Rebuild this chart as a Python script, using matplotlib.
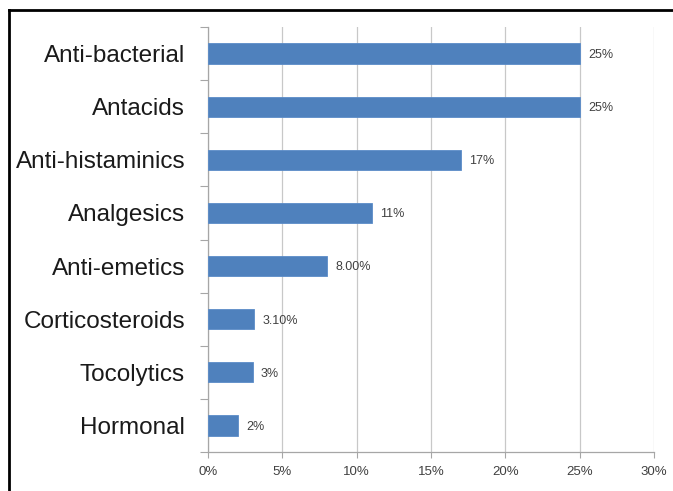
import matplotlib
matplotlib.use("Agg")
import matplotlib.pyplot as plt
from matplotlib.lines import Line2D

categories = ["Anti-bacterial", "Antacids", "Anti-histaminics", "Analgesics",
              "Anti-emetics", "Corticosteroids", "Tocolytics", "Hormonal"]
values = [25, 25, 17, 11, 8, 3.1, 3, 2]
value_labels = ["25%", "25%", "17%", "11%", "8.00%", "3.10%", "3%", "2%"]
x_ticks = [0, 5, 10, 15, 20, 25, 30]
x_tick_labels = ["0%", "5%", "10%", "15%", "20%", "25%", "30%"]

plt.rcParams["font.family"] = ["Liberation Sans Narrow", "Liberation Sans", "DejaVu Sans"]

fig = plt.figure(figsize=(6.73, 4.91), dpi=100)
ax = fig.add_axes([208 / 673, 1 - 452 / 491, 446 / 673, 425 / 491])

n = len(categories)
ypos = list(range(n - 1, -1, -1))
ax.barh(ypos, values, height=0.38, color="#4F81BD", edgecolor="#5B8CC8", linewidth=0.6, zorder=3)

for y, v, lab in zip(ypos, values, value_labels):
    ax.annotate(lab, (v, y), xytext=(6, -1), textcoords="offset points",
                va="center", ha="left", fontsize=9, color="#404040")

ax.set_xlim(0, 30)
ax.set_ylim(-0.5, n - 0.5)
ax.set_xticks(x_ticks)
ax.set_xticklabels(x_tick_labels, fontsize=9.5, color="#404040")
ax.set_yticks(ypos)
ax.set_yticklabels(categories, fontsize=17.5, color="#1a1a1a")
ax.tick_params(axis="y", length=0, pad=16.5)
ax.tick_params(axis="x", length=4, color="#A6A6A6", pad=6)

# category boundary ticks on the left spine
ax.set_yticks([i - 0.5 for i in range(n + 1)], minor=True)
ax.tick_params(axis="y", which="minor", length=6, color="#A6A6A6", width=0.8)

ax.grid(axis="x", color="#C8C8C8", linewidth=0.9, zorder=0)
for side in ["top", "right"]:
    ax.spines[side].set_visible(False)
for side in ["left", "bottom"]:
    ax.spines[side].set_color("#A6A6A6")
    ax.spines[side].set_linewidth(0.9)

# frame lines along the top and left of the figure
fig.add_artist(Line2D([9 / 673, 1], [1 - 10 / 491, 1 - 10 / 491], color="black", linewidth=2,
                      transform=fig.transFigure))
fig.add_artist(Line2D([9 / 673, 9 / 673], [0, 1 - 10 / 491], color="black", linewidth=2,
                      transform=fig.transFigure))

fig.savefig("out.png", dpi=100, facecolor="white")
